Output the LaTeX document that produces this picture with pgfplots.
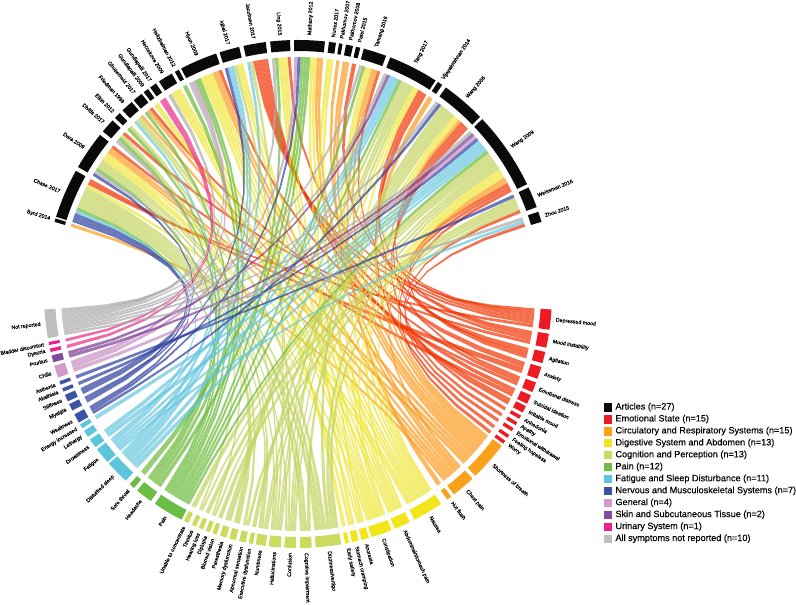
\documentclass[border=0pt]{standalone}
\usepackage{fontspec}
\setmainfont{Liberation Sans}
\newfontfamily\heavyfam[FakeBold=0.25]{Liberation Sans}
\usepackage{pgfplots}
\pgfplotsset{compat=1.18}

% sector rings
\definecolor{cA}{RGB}{10,10,10}
\definecolor{cE}{RGB}{237,28,36}
\definecolor{cC}{RGB}{249,161,27}
\definecolor{cD}{RGB}{242,230,26}
\definecolor{cK}{RGB}{203,219,94}
\definecolor{cP}{RGB}{106,189,69}
\definecolor{cF}{RGB}{91,197,220}
\definecolor{cN}{RGB}{60,83,164}
\definecolor{cG}{RGB}{211,155,201}
\definecolor{cS}{RGB}{127,75,158}
\definecolor{cU}{RGB}{236,31,142}
\definecolor{cX}{RGB}{190,190,190}
% ribbons (drawn with opacity .7)
\definecolor{rE}{RGB}{241,51,1}
\definecolor{rC}{RGB}{252,154,32}
\definecolor{rD}{RGB}{238,231,55}
\definecolor{rK}{RGB}{195,211,94}
\definecolor{rP}{RGB}{105,185,55}
\definecolor{rF}{RGB}{102,198,222}
\definecolor{rN}{RGB}{46,62,159}
\definecolor{rG}{RGB}{199,141,194}
\definecolor{rS}{RGB}{121,59,148}
\definecolor{rU}{RGB}{232,41,136}
\definecolor{rX}{RGB}{171,171,171}

\newcommand{\labfont}{\heavyfam\fontsize{5.3}{6}\selectfont}
\newcount\slotk
\newcount\slotn
\let\lnk\relax

% articles: angle from, angle to, name, symptom ids left to right
\newcommand{\articledata}{%
\art{163.5}{162.7}{Byrd 2014}{40}
\art{162.3}{151.0}{Chase 2017}{8,9,10,14,18,25,26,28,29,30,31,32,38,42,45}
\art{150.0}{141.2}{Dara 2009}{9,1,18,28,31,32,35,36,38,40,41,47}
\art{140.2}{136.9}{Divitis 2017}{1,17,20,43}
\art{136.1}{134.6}{Elkin 2012}{17,22}
\art{133.7}{130.9}{Friedman 1999}{15,29,32,40}
\art{130.3}{128.0}{Ghosemeid 2017}{18,41,46}
\art{127.4}{126.2}{Gundlapalli 2009}{37}
\art{125.6}{124.0}{Gundlapalli 2017}{2,3}
\art{123.2}{119.8}{Herzekova 2009}{1,34,36,38}
\art{119.0}{118.0}{Heltzbalman 2012}{18}
\art{117.4}{108.8}{Hyun 2009}{1,5,17,18,33,36,37,38,40,41,47}
\art{108.0}{103.4}{Iqbal 2017}{9,14,15,30,36,38}
\art{102.4}{97.3}{Jacobsen 2017}{15,29,42,43,45,46,48}
\art{96.3}{91.8}{Ling 2015}{1,18,35,36,37,42}
\art{90.9}{83.9}{Mathany 2012}{5,10,16,17,18,36,38,40,41}
\art{83.0}{81.4}{Nunes 2017}{34,37}
\art{80.7}{79.9}{Pakhomov 2007}{41}
\art{79.1}{77.5}{Pakhomov 2008}{40,41}
\art{76.8}{75.8}{Patel 2015}{42}
\art{75.0}{69.7}{Tamang 2016}{1,18,37,38,39,41,43}
\art{68.7}{57.2}{Tang 2017}{1,4,13,14,15,18,24,29,30,32,35,38,42,44,52}
\art{56.6}{55.4}{Vijayakrishnan 2014}{41}
\art{54.4}{44.2}{Wang 2006}{1,10,27,28,29,30,31,36,38,41,43,46,49}
\art{43.5}{25.6}{Wang 2009}{1,4,5,7,11,13,14,15,18,19,20,22,28,30,32,36,37,38,40,41,42,44,53}
\art{24.8}{20.0}{Weissman 2016}{6,21,23,26,32,50}
\art{18.9}{16.5}{Zhou 2015}{1,14,51}
}

% pass 1: hand each link its article slot
\newcommand{\artlinks}[4]{%
  \foreach \s [count=\idx] in {#4} {\xdef\nl{\idx}}%
  \foreach \s [count=\idx] in {#4} {%
    \pgfmathsetmacro\p{#1-(\idx-1)*(#1-#2)/\nl}%
    \pgfmathsetmacro\q{#1-\idx*(#1-#2)/\nl}%
    \expandafter\xdef\csname L\s\endcsname{\csname L\s\endcsname\lnk{\p}{\q}}%
  }%
}
\newcommand{\artring}[4]{\ringseg{#2}{#1}{243}{254}{cA}\lab{#1}{#2}{#3}}

\newcommand{\addpt}[2]{\xdef\pts{\pts(#1,#2)}}
\newcommand{\rp}[2]{%
  \pgfmathsetmacro\px{298+#2*cos(\ringa+#1*\ringd)}%
  \pgfmathsetmacro\py{311+#2*sin(\ringa+#1*\ringd)}%
  \addpt{\px}{\py}}
\newcommand{\ringseg}[5]{%
  \def\ringa{#1}\pgfmathsetmacro\ringd{#2-#1}%
  \gdef\pts{}%
  \rp{0}{#4}\rp{.125}{#4}\rp{.25}{#4}\rp{.375}{#4}\rp{.5}{#4}\rp{.625}{#4}\rp{.75}{#4}\rp{.875}{#4}\rp{1}{#4}%
  \rp{1}{#3}\rp{.875}{#3}\rp{.75}{#3}\rp{.625}{#3}\rp{.5}{#3}\rp{.375}{#3}\rp{.25}{#3}\rp{.125}{#3}\rp{0}{#3}%
  \edef\tmp{\noexpand\addplot[fill=#5,draw=none,forget plot] coordinates {\pts};}\tmp
}
\newcommand{\lab}[3]{%
  \pgfmathsetmacro\mida{(#1+#2)/2}%
  \pgfmathsetmacro\lx{298+259*cos(\mida)}%
  \pgfmathsetmacro\ly{311+259*sin(\mida)}%
  \pgfmathsetmacro\lc{cos(\mida)}%
  \ifdim\lc pt<0pt
    \pgfmathsetmacro\rot{\mida-180}\def\anc{east}%
  \else
    \edef\rot{\mida}\def\anc{west}%
  \fi
  \edef\tmp{\noexpand\node[font=\noexpand\labfont,inner sep=0pt,rotate=\rot,anchor=\anc,text=black] at (axis cs:\lx,\ly) {#3};}\tmp
}
% t runs 0,.1,...,1 on a quadratic curve with the circle's centre as control point
\newcommand{\bz}[2]{%
  \pgfmathsetmacro\px{298+#1*\Ax+#2*\Bx}%
  \pgfmathsetmacro\py{311+#1*\Ay+#2*\By}%
  \addpt{\px}{\py}}
\newcommand{\ribbon}[5]{%
  \pgfmathsetmacro\bone{#3+\the\slotk*(#4-#3)/\the\slotn}%
  \advance\slotk by 1
  \pgfmathsetmacro\btwo{#3+\the\slotk*(#4-#3)/\the\slotn}%
  \gdef\pts{}%
  \pgfmathsetmacro\Ax{237*cos(#1)}\pgfmathsetmacro\Ay{237*sin(#1)}%
  \pgfmathsetmacro\Bx{237*cos(\bone)}\pgfmathsetmacro\By{237*sin(\bone)}%
  \bz{1}{0}\bz{.81}{.01}\bz{.64}{.04}\bz{.49}{.09}\bz{.36}{.16}\bz{.25}{.25}\bz{.16}{.36}\bz{.09}{.49}\bz{.04}{.64}\bz{.01}{.81}\bz{0}{1}%
  \pgfmathsetmacro\Ax{237*cos(#2)}\pgfmathsetmacro\Ay{237*sin(#2)}%
  \pgfmathsetmacro\Bx{237*cos(\btwo)}\pgfmathsetmacro\By{237*sin(\btwo)}%
  \bz{0}{1}\bz{.01}{.81}\bz{.04}{.64}\bz{.09}{.49}\bz{.16}{.36}\bz{.25}{.25}\bz{.36}{.16}\bz{.49}{.09}\bz{.64}{.04}\bz{.81}{.01}\bz{1}{0}%
  \edef\tmp{\noexpand\addplot[fill=#5,draw=none,fill opacity=.7,forget plot] coordinates {\pts};}\tmp
}
% symptoms: id, angle from, angle to, colour key, name
\newcommand{\sym}[5]{%
  \slotn=0 \def\lnk##1##2{\advance\slotn by 1 }\csname L#1\endcsname
  \slotk=0 \def\lnk##1##2{\ribbon{##1}{##2}{#2}{#3}{r#4}}\csname L#1\endcsname
  \ringseg{#2}{#3}{243}{254}{c#4}\lab{#2}{#3}{#5}%
  \let\lnk\relax
}

\begin{document}
\begin{tikzpicture}
\useasboundingbox (0,0) rectangle (796bp,605bp);
\foreach \i in {1,...,53} {\expandafter\gdef\csname L\i\endcsname{}}
\let\art\artlinks
\articledata
\begin{axis}[at={(0,0)},anchor=south west,scale only axis,width=796bp,height=605bp,
  xmin=0,xmax=796,ymin=0,ymax=605,hide axis,clip=false,
  legend cell align=left,
  legend style={at={(axis cs:603.8,62)},anchor=south west,draw=none,fill=none,
    inner sep=0pt,outer sep=0pt,row sep=3.4pt,
    /tikz/column 1/.style={column sep=4.5pt},
    font=\heavyfam\fontsize{9.15}{10}\selectfont,
    nodes={inner sep=0pt,text height=6.6pt,text depth=2pt}}]
\sym{42}{351.9}{356.5}{E}{Depressed mood}
\sym{43}{347.8}{351.0}{E}{Mood instability}
\sym{44}{344.2}{346.8}{E}{Agitation}
\sym{45}{340.5}{343.3}{E}{Anxiety}
\sym{46}{337.3}{339.6}{E}{Emotional distress}
\sym{47}{334.4}{336.5}{E}{Suicidal ideation}
\sym{48}{332.2}{333.8}{E}{Irritable mood}
\sym{49}{330.6}{331.4}{E}{Anhedonia}
\sym{50}{328.9}{329.7}{E}{Apathy}
\sym{51}{327.3}{328.1}{E}{Emotional withdrawal}
\sym{52}{325.5}{326.3}{E}{Feeling hopeless}
\sym{53}{323.9}{324.7}{E}{Worry}
\sym{41}{314.3}{323.3}{C}{Shortness of breath}
\sym{40}{307.9}{313.4}{C}{Chest pain}
\sym{39}{306.0}{307.1}{C}{Hot flush}
\sym{38}{297.3}{304.3}{D}{Nausea}
\sym{37}{292.4}{296.1}{D}{Abdominal/stomach pain}
\sym{36}{286.8}{291.6}{D}{Constipation}
\sym{35}{284.5}{286.2}{D}{Anorexia}
\sym{34}{282.3}{283.8}{D}{Stomach cramping}
\sym{33}{280.7}{281.6}{D}{Early satiety}
\sym{32}{274.0}{279.8}{K}{Dizziness/vertigo}
\sym{31}{270.5}{273.1}{K}{Cognitive impairment}
\sym{30}{266.9}{269.5}{K}{Confusion}
\sym{29}{263.4}{266.1}{K}{Hallucinations}
\sym{28}{260.4}{262.7}{K}{Numbness}
\sym{27}{258.8}{259.8}{K}{Executive dysfunction}
\sym{26}{256.6}{258.1}{K}{Abnormal sensation}
\sym{25}{254.3}{255.8}{K}{Memory dysfunction}
\sym{24}{252.1}{253.6}{K}{Paresthesia}
\sym{23}{250.3}{251.3}{K}{Blurred vision}
\sym{22}{248.7}{249.7}{K}{Diplopia}
\sym{21}{247.0}{248.0}{K}{Hearing loss}
\sym{20}{245.3}{246.3}{K}{Tinnitus}
\sym{19}{243.3}{244.4}{K}{Unable to concentrate}
\sym{18}{235.7}{242.7}{P}{Pain}
\sym{17}{230.7}{234.6}{P}{Headache}
\sym{16}{228.5}{229.8}{P}{Sore throat}
\sym{15}{221.9}{227.3}{F}{Disturbed sleep}
\sym{14}{217.7}{221.4}{F}{Fatigue}
\sym{13}{215.0}{217.1}{F}{Drowsiness}
\sym{12}{212.6}{214.2}{F}{Lethargy}
\sym{11}{210.9}{211.9}{F}{Energy increased}
\sym{10}{208.3}{210.4}{N}{Weakness}
\sym{9}{205.7}{207.3}{N}{Myalgia}
\sym{8}{203.4}{205.0}{N}{Stiffness}
\sym{7}{201.8}{202.6}{N}{Akathisia}
\sym{6}{200.1}{200.9}{N}{Asthenia}
\sym{5}{196.4}{199.2}{G}{Chills}
\sym{4}{194.0}{195.6}{S}{Pruritus}
\sym{3}{192.4}{193.2}{U}{Dysuria}
\sym{2}{190.9}{191.6}{U}{Bladder discomfort}
\sym{1}{183.5}{190.0}{X}{Not reported}
\let\art\artring
\articledata
\addlegendimage{only marks,mark=square*,mark size=3.6bp,color=cA}\addlegendentry{Articles (n=27)}
\addlegendimage{only marks,mark=square*,mark size=3.6bp,color=cE}\addlegendentry{Emotional State (n=15)}
\addlegendimage{only marks,mark=square*,mark size=3.6bp,color=cC}\addlegendentry{Circulatory and Respiratory Systems (n=15)}
\addlegendimage{only marks,mark=square*,mark size=3.6bp,color=cD}\addlegendentry{Digestive System and Abdomen (n=13)}
\addlegendimage{only marks,mark=square*,mark size=3.6bp,color=cK}\addlegendentry{Cognition and Perception (n=13)}
\addlegendimage{only marks,mark=square*,mark size=3.6bp,color=cP}\addlegendentry{Pain (n=12)}
\addlegendimage{only marks,mark=square*,mark size=3.6bp,color=cF}\addlegendentry{Fatigue and Sleep Disturbance (n=11)}
\addlegendimage{only marks,mark=square*,mark size=3.6bp,color=cN}\addlegendentry{Nervous and Musculoskeletal Systems (n=7)}
\addlegendimage{only marks,mark=square*,mark size=3.6bp,color=cG}\addlegendentry{General (n=4)}
\addlegendimage{only marks,mark=square*,mark size=3.6bp,color=cS}\addlegendentry{Skin and Subcutaneous Tissue (n=2)}
\addlegendimage{only marks,mark=square*,mark size=3.6bp,color=cU}\addlegendentry{Urinary System (n=1)}
\addlegendimage{only marks,mark=square*,mark size=3.6bp,color=cX}\addlegendentry{All symptoms not reported (n=10)}
\end{axis}
\end{tikzpicture}
\end{document}
